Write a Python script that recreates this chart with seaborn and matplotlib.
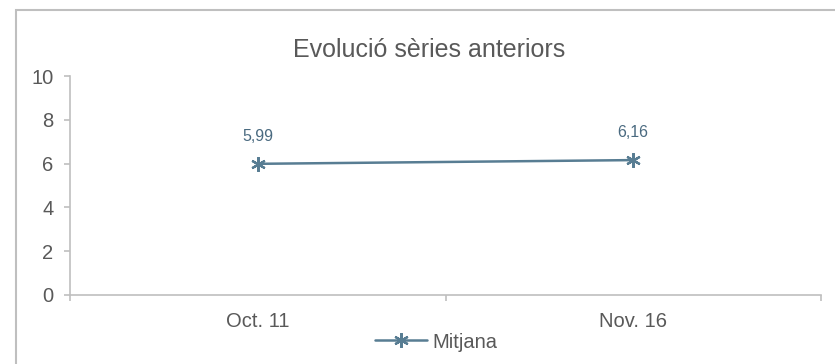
import matplotlib
matplotlib.use('Agg')
import matplotlib.pyplot as plt
import seaborn as sns
import pandas as pd
from matplotlib.patches import Rectangle

# chart data
periods = ['Oct. 11', 'Nov. 16']
mitjana = [5.99, 6.16]
y_ticks = [0, 2, 4, 6, 8, 10]
title = 'Evolució sèries anteriors'
series_name = 'Mitjana'

line_color = '#587d93'
text_color = '#595959'
axis_color = '#bfbfbf'

sns.set_style('white')
plt.rcParams['font.family'] = ['Liberation Sans', 'DejaVu Sans']

df = pd.DataFrame({'periode': periods, 'valor': mitjana})

fig = plt.figure(figsize=(8.35, 3.64), dpi=100)
W, H = 835, 364
ax = fig.add_axes([70 / W, (H - 295) / H, (821 - 70) / W, (295 - 76) / H])

# asterisk marker with a vertical spoke, like the Excel star marker
sns.lineplot(data=df, x='periode', y='valor', ax=ax, color=line_color,
             linewidth=1.8, marker=(6, 2, 0), markersize=10.5,
             markeredgewidth=1.6, markeredgecolor=line_color, label=series_name)

# data labels
for i, v in enumerate(mitjana):
    ax.annotate(f'{v:.2f}'.replace('.', ','), (i, v), xytext=(0, 20),
                textcoords='offset points', ha='center', va='center',
                fontsize=11.5, color='#4a6a80')

ax.set_xlim(-0.5, len(periods) - 0.5)
ax.set_ylim(0, 10)
ax.set_yticks(y_ticks)
ax.set_xticks(range(len(periods)))
ax.set_xticklabels(periods)
ax.set_xticks([-0.5 + i for i in range(len(periods) + 1)], minor=True)
ax.tick_params(axis='x', which='major', length=0, pad=12, labelsize=14.5, labelcolor=text_color)
ax.tick_params(axis='x', which='minor', length=4, width=1.2, color=axis_color, direction='out')
ax.tick_params(axis='y', length=4, width=1.2, color=axis_color, direction='out',
               labelsize=14.5, labelcolor=text_color, pad=8)
ax.tick_params(bottom=True, left=True, which='both')
ax.set_xlabel(None)
ax.set_ylabel(None)

sns.despine(ax=ax)
for side in ['left', 'bottom']:
    ax.spines[side].set_color(axis_color)
    ax.spines[side].set_linewidth(1.2)

ax.legend_.remove()
fig.legend(*ax.get_legend_handles_labels(), loc='center', bbox_to_anchor=(436 / W, (H - 342) / H),
           frameon=False, fontsize=14.5, handlelength=2.6, handletextpad=0.25,
           labelcolor=text_color, borderpad=0)

fig.text(429 / W, (H - 50) / H, title, ha='center', va='center', fontsize=18, color=text_color)

# outer chart border (cropped on right and bottom)
fig.patches.append(Rectangle((16 / W, -0.1), 1.0, (H - 10) / H + 0.1, transform=fig.transFigure,
                             fill=False, edgecolor=axis_color, linewidth=1.5))

fig.savefig('out.png', dpi=100)
